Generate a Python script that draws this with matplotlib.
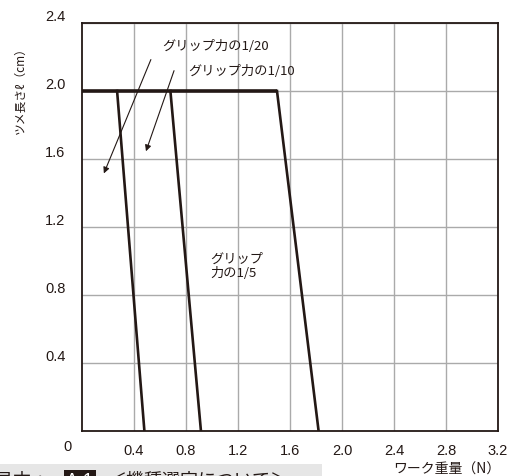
import matplotlib
matplotlib.use("Agg")
import matplotlib.pyplot as plt
from matplotlib.patches import Rectangle

plt.rcParams['font.family'] = ['Liberation Sans', 'Noto Sans CJK JP']
JP = ['Noto Sans CJK JP', 'Liberation Sans']

# data: gripping-force curves (work weight N vs claw length cm)
plateau_x = [0.0, 1.50]
plateau_y = [2.0, 2.0]
curve_20_x = [0.27, 0.48]
curve_20_y = [2.0, 0.0]
curve_10_x = [0.68, 0.915]
curve_10_y = [2.0, 0.0]
curve_5_x = [1.50, 1.82]
curve_5_y = [2.0, 0.0]

x_ticks = [0.4, 0.8, 1.2, 1.6, 2.0, 2.4, 2.8, 3.2]
y_ticks = [0.4, 0.8, 1.2, 1.6, 2.0, 2.4]

line_col = '#231815'
grid_col = '#aaaaaa'
text_col = '#231815'

fig = plt.figure(figsize=(5.11, 4.77), dpi=100)
ax = fig.add_axes([82 / 511, 45 / 477, 416 / 511, 408 / 477])

ax.set_xlim(0, 3.2)
ax.set_ylim(0, 2.4)

# grid
ax.set_xticks(x_ticks)
ax.set_yticks(y_ticks)
ax.grid(True, color=grid_col, linewidth=1.0)
ax.set_axisbelow(True)
ax.tick_params(length=0, labelsize=10.5, colors=text_col)
ax.tick_params(axis='x', pad=9)
ax.tick_params(axis='y', pad=12)
ax.set_xticklabels([f'{v:.1f}' for v in x_ticks])
ax.set_yticklabels([f'{v:.1f}' for v in y_ticks])
for lab in ax.get_yticklabels():
    lab.set_va('bottom')
for s in ax.spines.values():
    s.set_linewidth(1.3)
    s.set_color(line_col)

# curves
ax.plot(plateau_x, plateau_y, color=line_col, lw=2.6, solid_capstyle='butt', zorder=3)
for xs, ys in [(curve_20_x, curve_20_y), (curve_10_x, curve_10_y), (curve_5_x, curve_5_y)]:
    ax.plot(xs, ys, color=line_col, lw=1.9, zorder=3)

# annotations
ax.annotate('', xy=(0.16, 1.50), xytext=(0.538, 2.20),
            arrowprops=dict(arrowstyle='-|>', color=line_col, lw=0.8, mutation_scale=9))
ax.annotate('', xy=(0.485, 1.63), xytext=(0.715, 2.135),
            arrowprops=dict(arrowstyle='-|>', color=line_col, lw=0.8, mutation_scale=9))
ax.text(0.615, 2.27, 'グリップ力の1/20', fontsize=9.5, family=JP, color=text_col,
        va='center', ha='left')
ax.text(0.815, 2.12, 'グリップ力の1/10', fontsize=9.5, family=JP, color=text_col,
        va='center', ha='left')
ax.text(0.985, 0.975, 'グリップ\n力の1/5', fontsize=9.5, family=JP, color=text_col,
        va='center', ha='left', linespacing=1.15)

# corner zero label
ax.text(-0.115, -0.045, '0', fontsize=10.5, color=text_col, ha='center', va='top')

# axis titles
fig.text(20 / 511, 1 - 88 / 477, 'ツメ長さℓ（cm）', rotation=90, fontsize=8.5,
         family=JP, color=text_col, ha='center', va='center')
fig.text(447 / 511, 1 - 470 / 477, 'ワーク重量（N）', fontsize=10, family=JP,
         color=text_col, ha='center', va='center')

# clipped footer strip from the source page
fig.patches.append(Rectangle((0, 0), 322 / 511, 12 / 477, transform=fig.transFigure,
                             facecolor='#e6e6e6', edgecolor='none', zorder=0))
fig.text(-5 / 511, -9 / 477, '見本  >', fontsize=13, family=JP, color=text_col,
         ha='left', va='baseline')
fig.text(66 / 511, -9 / 477, 'A-1', fontsize=13, color='white', ha='left', va='baseline',
         bbox=dict(facecolor=line_col, edgecolor='none', pad=1.5))
fig.text(108 / 511, -9 / 477, '＜機種選定について＞', fontsize=13, family=JP, color=text_col,
         ha='left', va='baseline')

fig.savefig('out.png', dpi=100)
